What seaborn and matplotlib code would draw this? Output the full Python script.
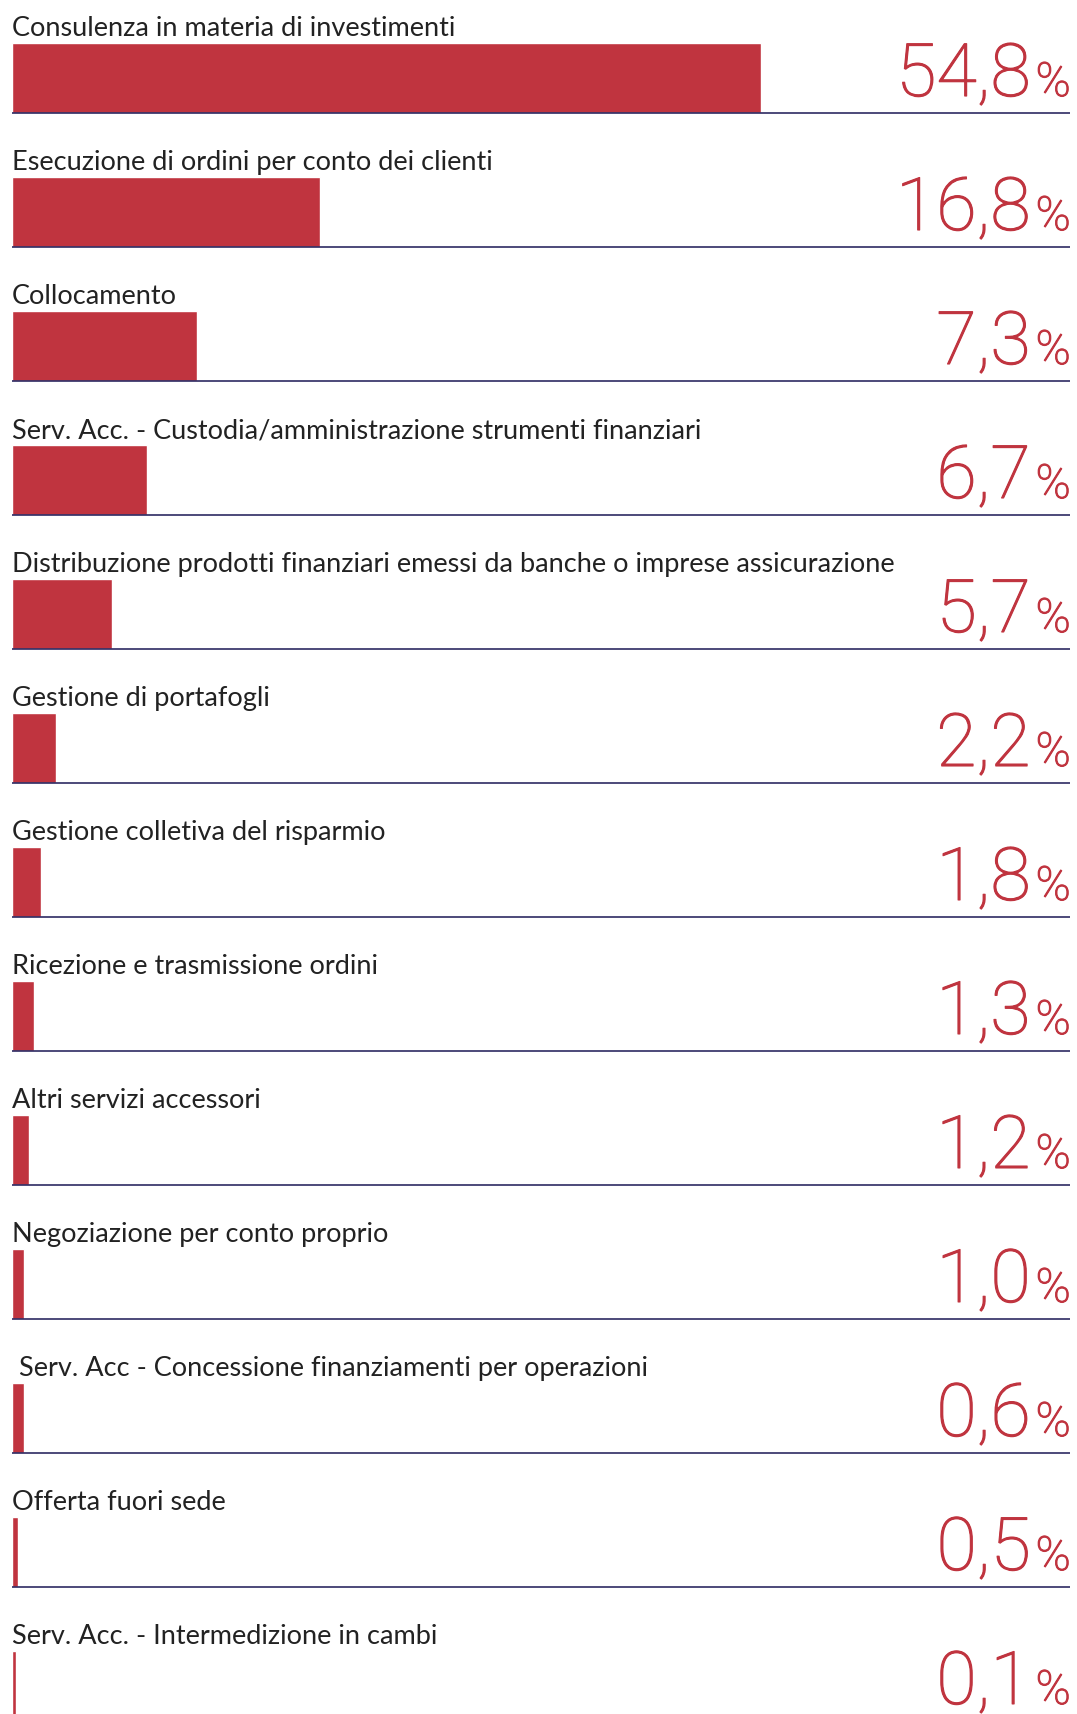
import pandas as pd
import matplotlib.pyplot as plt
import matplotlib.patheffects as pe
import seaborn as sns

# Data
categories = [
    "Consulenza in materia di investimenti",
    "Esecuzione di ordini per conto dei clienti",
    "Collocamento",
    "Serv. Acc. - Custodia/amministrazione strumenti finanziari",
    "Distribuzione prodotti finanziari emessi da banche o imprese assicurazione",
    "Gestione di portafogli",
    "Gestione colletiva del risparmio",
    "Ricezione e trasmissione ordini",
    "Altri servizi accessori",
    "Negoziazione per conto proprio",
    " Serv. Acc - Concessione finanziamenti per operazioni",
    "Offerta fuori sede",
    "Serv. Acc. - Intermedizione in cambi",
]
values = [54.8, 16.8, 7.3, 6.7, 5.7, 2.2, 1.8, 1.3, 1.2, 1.0, 0.6, 0.5, 0.1]
# bar lengths as drawn in the picture (same units as the percentages)
bar_lengths = [54.8, 22.5, 13.5, 9.9, 7.3, 3.2, 2.1, 1.6, 1.25, 0.88, 0.88, 0.44, 0.3]

df = pd.DataFrame({"category": categories, "value": values, "length": bar_lengths})

red = "#C0343F"
line_color = "#2E2A62"

sns.set_theme(style="white")
plt.rcParams["font.family"] = ["Lato", "DejaVu Sans"]

fig = plt.figure(figsize=(10.77, 17.15), dpi=100)
ax = fig.add_axes([0, 0, 1, 1])

sns.barplot(data=df, x="length", y="category", orient="h", color=red,
            width=0.522, saturation=1, ax=ax)

ax.set_xlim(-0.878, 77.9)
ax.set_ylim(12.209, -0.590)
ax.axis("off")

num_font = ["Roboto", "DejaVu Sans"]
thick = [pe.withStroke(linewidth=0.8, foreground=red)]
x_right = 77.45
for i, row in df.iterrows():
    # baseline rule under each bar
    ax.plot([0, 77.4], [i + 0.261, i + 0.261], color=line_color, lw=1.2,
            solid_capstyle="butt", zorder=1)
    ax.text(0, i - 0.321, row["category"], ha="left", va="baseline",
            fontsize=19.5, color="#222222")
    ax.text(x_right, i + 0.134, "%", ha="right", va="baseline",
            fontsize=34, color=red, family=num_font, fontweight="light",
            path_effects=thick)
    ax.annotate(f"{row['value']:.1f}".replace(".", ","), xy=(x_right, i + 0.134),
                xytext=(-40, 0), textcoords="offset pixels", ha="right",
                va="baseline", fontsize=53, color=red, family=num_font,
                fontweight="light", path_effects=thick)

fig.savefig("out.png", dpi=100)
